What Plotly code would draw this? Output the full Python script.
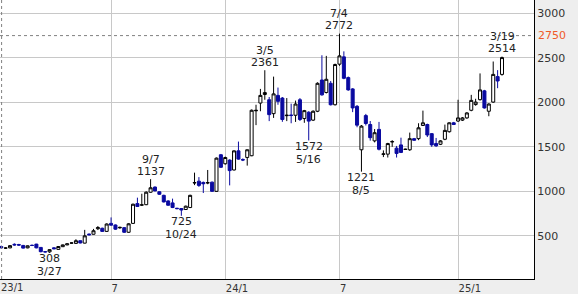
import plotly.graph_objects as go
import pandas as pd

# Weekly candles (week starting Monday)
dates = pd.date_range("2023-01-02", periods=116, freq="W-MON")

open_ = [372, 380, 362, 365, 405, 402, 392, 365, 393, 407,
         370, 322, 320, 365, 348, 378, 398, 418, 415, 445,
         418, 520, 518, 580, 585, 550, 640, 622, 590, 592,
         540, 640, 862, 845, 850, 990, 1048, 995, 955, 892,
         870, 810, 807, 796, 818, 1094, 1114, 1100, 1095, 1103,
         1000, 1411, 1310, 1351, 1240, 1455, 1358, 1381, 1400, 1905,
         1992, 2088, 2029, 1873, 2078, 2048, 1850, 1858, 1855, 2029,
         1818, 1889, 1800, 1900, 2251, 2111, 2214, 1973, 2429, 2511,
         2278, 2151, 1955, 1467, 1851, 1751, 1567, 1696, 1416, 1418,
         1555, 1485, 1522, 1470, 1467, 1592, 1592, 1740, 1751, 1648,
         1537, 1529, 1585, 1670, 1770, 1790, 1800, 1825, 1911, 1975,
         2030, 2129, 1900, 2003, 2289, 2314]
high = [385, 390, 372, 395, 415, 410, 398, 392, 402, 410,
        373, 326, 348, 372, 385, 402, 415, 425, 462, 448,
        567, 525, 578, 610, 592, 640, 707, 628, 603, 598,
        642, 862, 929, 973, 1000, 1137, 1055, 1000, 962, 900,
        918, 815, 812, 840, 962, 1210, 1160, 1110, 1240, 1110,
        1380, 1420, 1390, 1360, 1460, 1559, 1370, 1470, 1920, 1973,
        2151, 2361, 2060, 2289, 2166, 2060, 2048, 1985, 2020, 2048,
        1915, 1900, 1910, 2225, 2529, 2522, 2240, 2435, 2772, 2573,
        2290, 2160, 1970, 1745, 1870, 1790, 1700, 1780, 1460, 1545,
        1575, 1510, 1603, 1480, 1660, 1600, 1765, 1907, 1760, 1655,
        1600, 1575, 1750, 1775, 1780, 2029, 1835, 1890, 2084, 2040,
        2325, 2140, 1990, 2459, 2362, 2514]
low = [360, 360, 352, 360, 390, 388, 358, 360, 385, 360,
       315, 312, 308, 350, 345, 375, 395, 412, 410, 415,
       415, 505, 515, 565, 545, 545, 615, 567, 580, 533,
       535, 635, 825, 835, 845, 985, 1000, 960, 875, 838,
       812, 798, 725, 790, 812, 1070, 1050, 981, 1080, 995,
       995, 1265, 1300, 1067, 1235, 1355, 1340, 1289, 1395, 1744,
       1900, 2029, 1789, 1825, 1973, 1781, 1789, 1765, 1780, 1790,
       1770, 1572, 1790, 1890, 2075, 2100, 1965, 1965, 2410, 2260,
       2130, 1890, 1720, 1221, 1740, 1570, 1550, 1460, 1385, 1380,
       1500, 1380, 1430, 1465, 1455, 1570, 1575, 1735, 1610, 1500,
       1500, 1520, 1575, 1660, 1745, 1780, 1790, 1815, 1900, 1962,
       2020, 1930, 1844, 1995, 2159, 2300]
close = [368, 365, 363, 390, 398, 396, 362, 388, 392, 365,
         322, 320, 345, 355, 380, 398, 410, 420, 445, 420,
         500, 512, 557, 592, 550, 633, 620, 575, 595, 540,
         635, 855, 830, 848, 990, 1040, 1005, 967, 881, 844,
         818, 806, 790, 833, 955, 1098, 1067, 1085, 1097, 1000,
         1373, 1270, 1380, 1233, 1455, 1362, 1352, 1467, 1911, 1910,
         2078, 2110, 1862, 2095, 2011, 1807, 1855, 1852, 1981, 1807,
         1907, 1789, 1900, 2214, 2084, 2259, 1973, 2425, 2522, 2270,
         2140, 1937, 1744, 1733, 1762, 1603, 1659, 1473, 1420, 1537,
         1559, 1426, 1437, 1473, 1592, 1574, 1714, 1770, 1633, 1522,
         1511, 1567, 1685, 1770, 1751, 1825, 1825, 1881, 2022, 2003,
         2140, 1937, 1981, 2314, 2240, 2503]

# Axis labels (first week of month gridlines)
grid_dates = ["2023-01-02", "2023-07-03", "2024-01-01", "2024-07-01", "2025-01-06"]
grid_labels = ["23/1", "7", "24/1", "7", "25/1"]
y_ticks = [500, 1000, 1500, 2000, 2500, 3000]
ref_level = 2750

# Marked highs / lows
mark_idx = [12, 35, 42, 61, 71, 78, 83, 115]
mark_date_lbl = ["3/27", "9/7", "10/24", "3/5", "5/16", "7/4", "8/5", "3/19"]
mark_kind = ["low", "high", "low", "high", "low", "high", "low", "high"]

DOWN = "#0a0aa0"

fig = go.Figure(go.Candlestick(
    x=dates, open=open_, high=high, low=low, close=close,
    increasing=dict(line=dict(color="#000000", width=1), fillcolor="#ffffff"),
    decreasing=dict(line=dict(color=DOWN, width=1), fillcolor=DOWN),
    whiskerwidth=0, hoverinfo="skip", showlegend=False,
))

fig.update_layout(
    width=578, height=294,
    margin=dict(l=0, r=44, t=0, b=11),
    paper_bgcolor="#eeeeee", plot_bgcolor="#ffffff",
    showlegend=False, boxgap=0.02,
    font=dict(family="DejaVu Sans", size=11, color="#333333"),
)
fig.update_xaxes(
    type="date", range=["2023-01-07", "2025-05-07"],
    rangeslider_visible=False,
    tickvals=grid_dates[1:], ticktext=grid_labels[1:],
    ticklabelposition="outside right",
    showgrid=True, gridcolor="#c8c8c8", gridwidth=1,
    showline=True, linecolor="#000000", linewidth=1,
    ticks="", tickfont=dict(size=10, color="#333333"), zeroline=False,
)
fig.update_yaxes(
    side="right", range=[15, 3150], tickvals=y_ticks,
    showgrid=True, gridcolor="#c8c8c8", gridwidth=1,
    showline=True, linecolor="#000000", linewidth=1,
    ticks="", tickfont=dict(size=11, color="#333333"), zeroline=False,
)

# first month label (its gridline lies just left of the plot)
fig.add_annotation(xref="paper", yref="paper", x=0, y=0, xanchor="left", yanchor="top",
                   xshift=-1, yshift=-1, text=grid_labels[0], showarrow=False,
                   font=dict(size=10, color="#333333"))

# reference level
fig.add_shape(type="line", xref="paper", x0=0, x1=1, yref="y", y0=ref_level, y1=ref_level,
              line=dict(color="#808080", width=1, dash="dot"))
fig.add_shape(type="line", xref="paper", x0=0.003, x1=0.003, yref="paper", y0=0, y1=1,
              line=dict(color="#808080", width=1, dash="dot"))
fig.add_annotation(xref="paper", x=1, xanchor="left", xshift=2, yref="y", y=ref_level,
                   text=str(ref_level), showarrow=False,
                   font=dict(size=11, color="#f05a28"))

for i, dl, kind in zip(mark_idx, mark_date_lbl, mark_kind):
    if kind == "high":
        v = high[i]
        fig.add_annotation(x=dates[i], y=v, text=str(v), showarrow=False,
                           yanchor="middle", yshift=8, font=dict(size=11, color="#222222"))
        fig.add_annotation(x=dates[i], y=v, text=dl, showarrow=False,
                           yanchor="middle", yshift=20, font=dict(size=11, color="#222222"))
    else:
        v = low[i]
        fig.add_annotation(x=dates[i], y=v, text=str(v), showarrow=False,
                           yanchor="middle", yshift=-6, font=dict(size=11, color="#222222"))
        fig.add_annotation(x=dates[i], y=v, text=dl, showarrow=False,
                           yanchor="middle", yshift=-19, font=dict(size=11, color="#222222"))

fig.write_html("out.html")
